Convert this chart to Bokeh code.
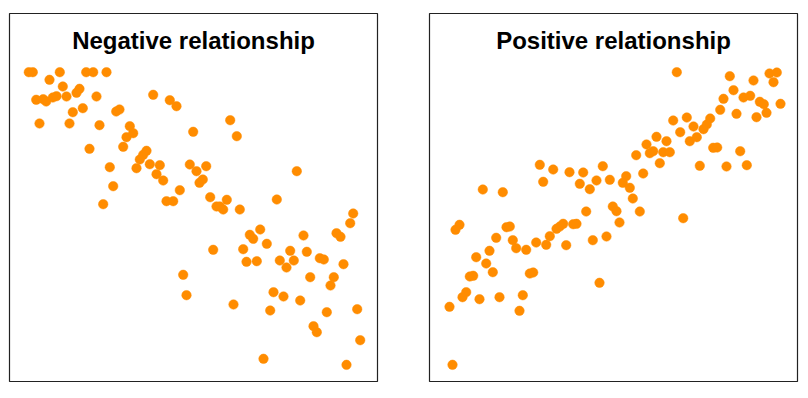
from bokeh.plotting import figure
from bokeh.layouts import row
from bokeh.models import Range1d, Label
from bokeh.embed import file_html
from bokeh.resources import INLINE

# Negative relationship panel data
neg_x = [19.3, 23.3, 50.3, 76.7, 83.7, 97, 40, 53.3, 70, 67, 26.7, 33.7, 36.7, 43.3, 47, 57, 87,
         143.7, 160.3, 167, 106.7, 110, 63.3, 73.3, 30, 60, 90, 120.3, 117, 123.7, 183.7, 80,
         113.7, 137, 133.7, 130.3, 140.3, 150.3, 127, 180.3, 187, 190, 147, 153.7, 100.3, 103.7,
         170.3, 157, 163.7, 93.7, 220.7, 227.3, 196.7, 193.3, 287.3, 200.7, 217.3, 267.3, 173.7,
         177, 207, 210.3, 213.7, 230.3, 343.7, 340.7, 240.3, 243.7, 250.7, 294, 327, 331, 203.7,
         233.7, 257.3, 280.7, 297.3, 237, 247.3, 270.3, 284.3, 277, 310.3, 314.3, 334, 300.7,
         324.3, 321, 264, 274, 290.7, 224, 260.7, 317.3, 347.7, 304, 307.3, 350.7, 254, 337]
neg_y = [309.3, 309.3, 309.3, 309.3, 309.3, 309.3, 301.7, 295, 292.7, 288.7, 281.7, 282.3, 280,
         284, 285.3, 285, 285, 286.7, 281.3, 275.3, 270, 272, 269.3, 273.3, 258, 258, 256.3,
         255.3, 244.3, 248.3, 249.7, 232.7, 234.7, 230.7, 226.7, 222, 217.3, 216.3, 213.3, 217,
         210.3, 198.7, 207.3, 201, 214.3, 195.3, 191.3, 180.3, 180.3, 177.3, 261.3, 245.3, 215.3,
         202, 210.3, 184.3, 181.7, 182, 106.7, 86.3, 175, 175, 172, 172, 168, 158.3, 146.7,
         142.7, 152, 146, 148.3, 144.7, 131.7, 132.3, 137.7, 130.7, 129.7, 119.7, 120.3, 121,
         121, 114, 123.3, 122, 117.3, 104.3, 104.3, 96, 89.3, 85, 81, 77, 71, 69.3, 72.3, 55.3,
         49.3, 41.3, 22.7, 16.7]

# Positive relationship panel data
pos_x = [110.3, 123.7, 140, 153.7, 173.3, 113.7, 150.3, 167, 180.3, 160.3, 53.3, 73.3, 247.3,
         300.3, 340, 347.3, 344, 324, 304, 314, 320.7, 294, 330.3, 334.3, 351, 290.7, 307, 327,
         337, 243.7, 257.3, 280.7, 264, 277.3, 274, 250.7, 267.3, 260.3, 227, 237, 217, 223.7,
         220.3, 233.7, 240.3, 283.7, 287.7, 310.7, 206.7, 230.3, 270.3, 297, 317.3, 213.7, 196.7,
         193.3, 200.3, 203.3, 183.3, 187, 156.7, 190, 30, 26, 77, 80.3, 127, 130.3, 133.7, 143.7,
         147, 66.7, 83.3, 120.3, 106.7, 116.7, 136.7, 163.3, 177, 86.7, 96.7, 60, 46.7, 56.7,
         63.3, 40.3, 43.7, 100.3, 103.7, 36.7, 33, 50, 70, 93.3, 170, 20, 90, 23, 210.3, 253.7]
pos_y = [216.7, 212, 209.3, 209, 215.3, 199.7, 197.7, 201, 201.7, 192.3, 192, 189.3, 309.3,
         305.3, 308, 309, 299.3, 301, 291.3, 284, 285.7, 282.7, 279.7, 277.3, 277.7, 271.7,
         267.7, 264.3, 268.7, 261, 264, 263, 255, 257, 252.3, 249.3, 244.3, 240.3, 244.7, 240.3,
         237, 230.3, 228.3, 229.3, 229.3, 233.7, 234, 230.3, 226.3, 218.3, 215.7, 215, 216.3,
         208, 205.3, 198.7, 193.7, 183, 175, 170.3, 170, 159, 156.7, 151.7, 154.3, 155, 152.7,
         155, 157.7, 157.3, 157.7, 143.7, 141.3, 145.3, 139, 136.7, 136.3, 141.3, 145, 133.3,
         131.7, 130.7, 124.3, 118, 109.3, 105, 105.7, 108, 109, 89.3, 84.3, 82.3, 84.3, 86.3,
         98.7, 74.7, 70.7, 16.7, 170, 163.3]

titles = ["Negative relationship", "Positive relationship"]

DOT = "#FF8C00"


def panel(xs, ys, title, left, right):
    p = figure(frame_width=368, frame_height=368,
               x_range=Range1d(0, 368), y_range=Range1d(0, 368),
               x_axis_location=None, y_axis_location=None,
               toolbar_location=None, output_backend="svg",
               min_border_left=left, min_border_right=right,
               min_border_top=13, min_border_bottom=4)
    p.grid.visible = False
    p.outline_line_color = "#222222"
    p.outline_line_width = 1.2
    p.background_fill_color = "white"
    p.border_fill_color = "white"
    p.scatter(xs, ys, size=9.5, fill_color=DOT, line_color=DOT, line_width=0.5)
    p.add_layout(Label(x=184, y=341, text=title, text_align="center",
                       text_baseline="alphabetic", text_font="Liberation Sans",
                       text_font_size="24px", text_font_style="bold",
                       text_color="black"))
    return p


p1 = panel(neg_x, neg_y, titles[0], 9, 26)
p2 = panel(pos_x, pos_y, titles[1], 26, 4)
layout = row(p1, p2)

open("out.html", "w").write(file_html(layout, INLINE))
